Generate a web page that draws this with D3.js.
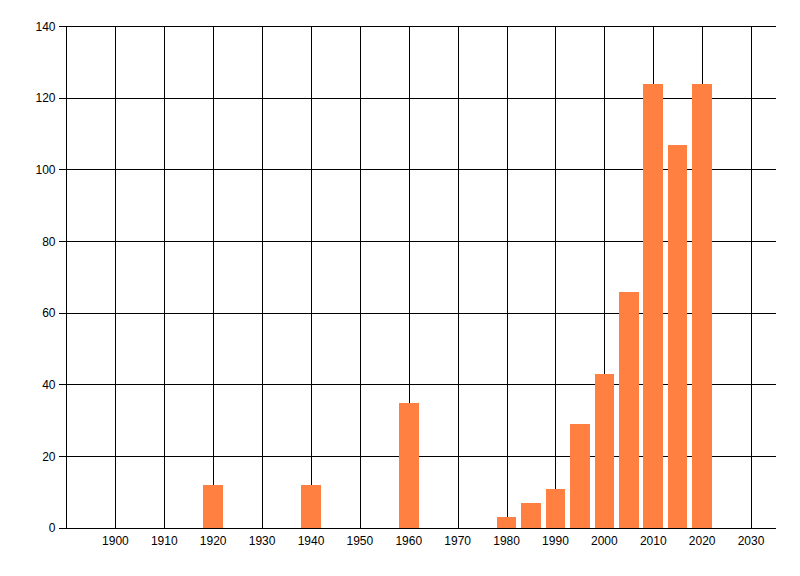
<!DOCTYPE html>
<html>
<head>
<meta charset="utf-8">
<script src="https://cdn.jsdelivr.net/npm/d3@7"></script>
<style>
  body { margin: 0; background: #fff; }
  svg text { font-family: "Liberation Sans Narrow", "Arial Narrow", "Liberation Sans", Arial, sans-serif; font-size: 12px; fill: #000; }
</style>
</head>
<body>
<div id="chart"></div>
<script>
// Data
const years = [1920, 1940, 1960, 1980, 1985, 1990, 1995, 2000, 2005, 2010, 2015, 2020];
const counts = [12, 12, 35, 3, 7, 11, 29, 43, 66, 124, 107, 124];
const xTicks = [1900, 1910, 1920, 1930, 1940, 1950, 1960, 1970, 1980, 1990, 2000, 2010, 2020, 2030];
const yTicks = [0, 20, 40, 60, 80, 100, 120, 140];

const barColor = '#ff8040';
const W = 800, H = 576;
const margin = { top: 26.5, right: 24.5, bottom: 48, left: 66.5 };

const svg = d3.select('#chart').append('svg')
    .attr('width', W)
    .attr('height', H);

const xScale = d3.scaleLinear()
    .domain([1890, 2035])
    .range([margin.left, W - margin.right]);

const yScale = d3.scaleLinear()
    .domain([0, 140])
    .range([H - margin.bottom, margin.top]);

const barW = xScale(1894) - xScale(1890);

// Vertical grid
svg.append('g')
    .selectAll('line')
    .data(xTicks)
    .join('line')
    .attr('x1', d => Math.round(xScale(d)) + 0.5)
    .attr('x2', d => Math.round(xScale(d)) + 0.5)
    .attr('y1', yScale(140))
    .attr('y2', yScale(0))
    .attr('stroke', '#000')
    .attr('shape-rendering', 'crispEdges');

// Horizontal grid with little tick marks on the left
svg.append('g')
    .selectAll('line')
    .data(yTicks.filter(d => d > 0))
    .join('line')
    .attr('x1', margin.left - 8)
    .attr('x2', W - margin.right)
    .attr('y1', d => yScale(d))
    .attr('y2', d => yScale(d))
    .attr('stroke', '#000')
    .attr('shape-rendering', 'crispEdges');

// Bars sit on top of the grid
svg.append('g')
    .selectAll('rect')
    .data(years.map((y, i) => ({ year: y, value: counts[i] })))
    .join('rect')
    .attr('x', d => xScale(d.year) - barW / 2)
    .attr('width', barW)
    .attr('y', d => yScale(d.value))
    .attr('height', d => yScale(0) - yScale(d.value))
    .attr('fill', barColor)
    .attr('shape-rendering', 'crispEdges');

// Zero line and left axis line
svg.append('line')
    .attr('x1', margin.left - 8).attr('x2', W - margin.right)
    .attr('y1', yScale(0)).attr('y2', yScale(0))
    .attr('stroke', '#000')
    .attr('shape-rendering', 'crispEdges');

svg.append('line')
    .attr('x1', margin.left).attr('x2', margin.left)
    .attr('y1', yScale(140)).attr('y2', yScale(0))
    .attr('stroke', '#000')
    .attr('shape-rendering', 'crispEdges');

// Y labels
svg.append('g')
    .selectAll('text')
    .data(yTicks)
    .join('text')
    .attr('x', margin.left - 11)
    .attr('y', d => yScale(d))
    .attr('dy', '0.36em')
    .attr('text-anchor', 'end')
    .text(d => d);

// X labels
svg.append('g')
    .selectAll('text')
    .data(xTicks)
    .join('text')
    .attr('x', d => xScale(d))
    .attr('y', yScale(0) + 17)
    .attr('text-anchor', 'middle')
    .text(d => d);
</script>
</body>
</html>
